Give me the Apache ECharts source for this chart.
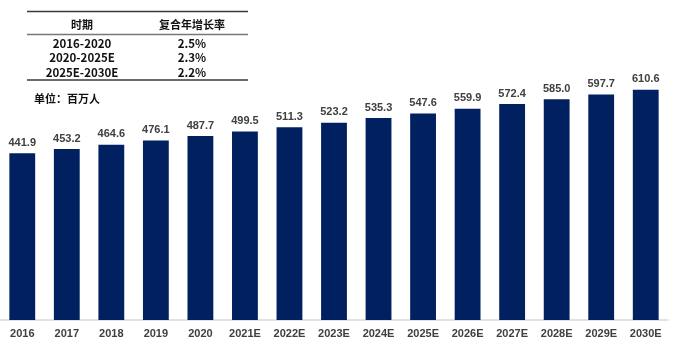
<!DOCTYPE html>
<html>
<head>
<meta charset="utf-8">
<script src="https://cdn.jsdelivr.net/npm/echarts@6/dist/echarts.min.js"></script>
<style>html,body{margin:0;padding:0;background:#fff}#c{width:686px;height:350px}</style>
</head>
<body>
<div id="c"></div>
<script>
const categories = ['2016','2017','2018','2019','2020','2021E','2022E','2023E','2024E','2025E','2026E','2027E','2028E','2029E','2030E'];
const values = [441.9,453.2,464.6,476.1,487.7,499.5,511.3,523.2,535.3,547.6,559.9,572.4,585.0,597.7,610.6];
const tableHeader = ['时期','复合年增长率'];
const tablePeriods = ['2016-2020','2020-2025E','2025E-2030E'];
const tableCagr = ['2.5%','2.3%','2.2%'];
const unitText = '单位：百万人';

const chart = echarts.init(document.getElementById('c'));
const tf = '"Noto Sans CJK SC","Noto Sans",sans-serif';
const graphic = [];
const col1 = 82, col2 = 192, x0 = 27, x1 = 248;
graphic.push({type:'line',shape:{x1:x0,y1:11.5,x2:x1,y2:11.5},style:{stroke:'#3a3a3a',lineWidth:1.5}});
graphic.push({type:'line',shape:{x1:x0,y1:34.5,x2:x1,y2:34.5},style:{stroke:'#777',lineWidth:1.5}});
graphic.push({type:'line',shape:{x1:x0,y1:80,x2:x1,y2:80},style:{stroke:'#3a3a3a',lineWidth:1.5}});
const hy = 25, rows = [43.3,57.8,72.8];
graphic.push({type:'text',x:col1,y:hy,style:{text:tableHeader[0],font:'bold 11px '+tf,fill:'#111',textAlign:'center',textVerticalAlign:'middle'}});
graphic.push({type:'text',x:col2,y:hy,style:{text:tableHeader[1],font:'bold 11px '+tf,fill:'#111',textAlign:'center',textVerticalAlign:'middle'}});
tablePeriods.forEach((p,i)=>{
  graphic.push({type:'text',x:col1,y:rows[i],style:{text:p,font:'bold 11.5px '+tf,fill:'#111',textAlign:'center',textVerticalAlign:'middle'}});
  graphic.push({type:'text',x:col2,y:rows[i],style:{text:tableCagr[i],font:'bold 11.5px '+tf,fill:'#111',textAlign:'center',textVerticalAlign:'middle'}});
});
graphic.push({type:'text',x:34,y:99,style:{text:unitText,font:'bold 11px '+tf,fill:'#111',textAlign:'left',textVerticalAlign:'middle'}});

chart.setOption({
  animation:false,
  grid:{left:-2,right:18,top:56,bottom:30,containLabel:false},
  xAxis:{type:'category',data:categories,
    axisLine:{lineStyle:{color:'#d9d9d9',width:1.5}},
    axisTick:{show:false},
    axisLabel:{color:'#404040',fontWeight:'bold',fontSize:11,fontFamily:'"Liberation Sans",Arial,sans-serif',margin:8,interval:0}},
  yAxis:{type:'value',min:0,max:700,show:false,splitLine:{show:false}},
  series:[{type:'bar',data:values,barWidth:'58%',
    itemStyle:{color:'#002060'},
    label:{show:true,position:'top',distance:5,color:'#404040',fontWeight:'bold',fontSize:11,fontFamily:'"Liberation Sans",Arial,sans-serif',formatter:p=>p.value.toFixed(1)}}],
  graphic:graphic
});
</script>
</body>
</html>
